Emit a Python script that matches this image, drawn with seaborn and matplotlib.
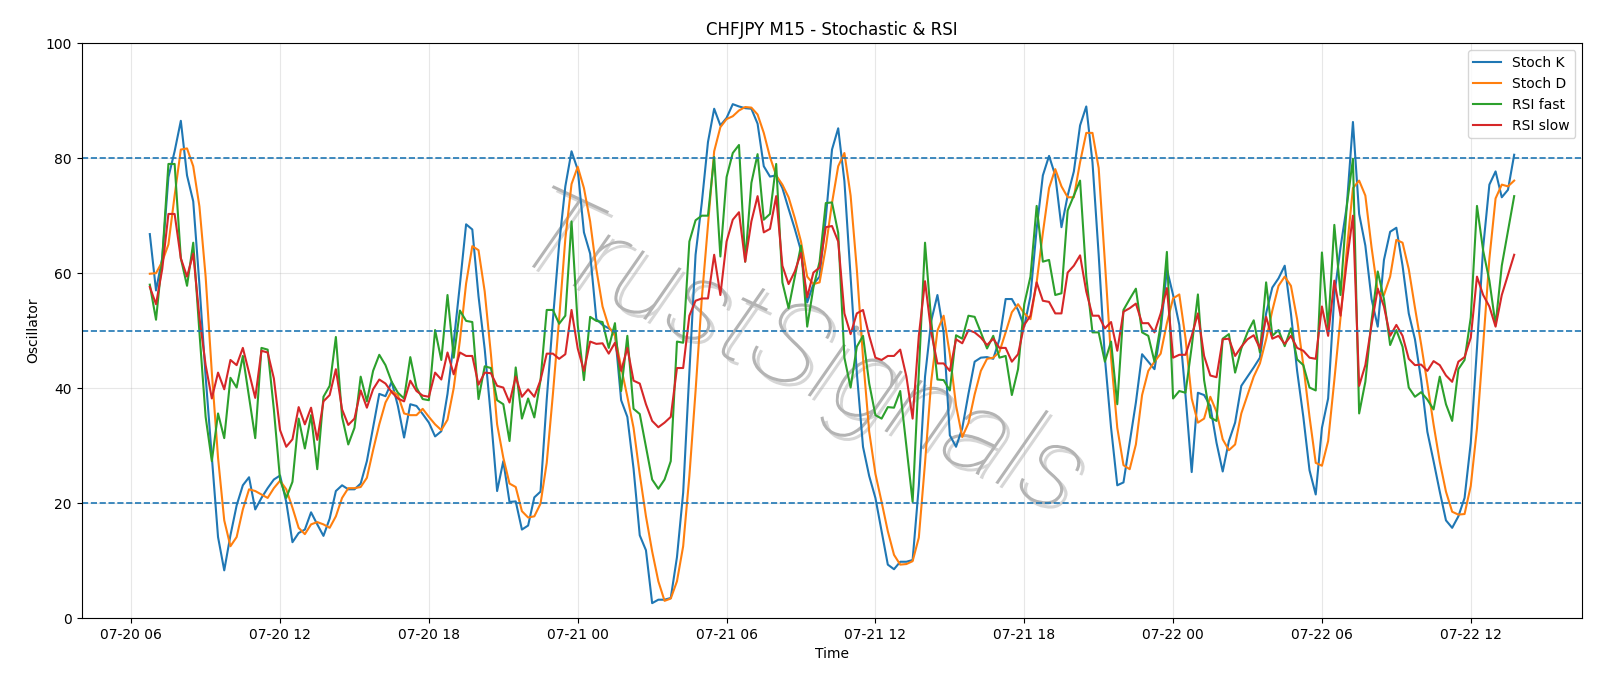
import matplotlib
matplotlib.use("Agg")
import matplotlib.pyplot as plt
import matplotlib.dates as mdates
import matplotlib.patheffects as pe
import pandas as pd
import seaborn as sns

start_time = "2020-07-20 06:45"

stoch_k = [
    66.8, 57, 62.6, 76.7, 81.2, 86.5, 77, 72.5, 58, 42,
    28, 14.1, 8.3, 14.4, 19.6, 23.1, 24.5, 18.9, 20.9, 22.6,
    24.1, 24.8, 20.2, 13.2, 14.8, 15.4, 18.4, 16.3, 14.3, 17.3,
    22.1, 23.1, 22.4, 22.4, 23.4, 27.3, 33.1, 39, 38.6, 41.1,
    36.9, 31.4, 37.2, 36.9, 35.5, 34, 31.6, 32.5, 39, 48,
    58, 68.5, 67.6, 56, 46.8, 35, 22.1, 27.3, 20.2, 20.3,
    15.4, 16.1, 21, 22, 38, 52, 65, 75.1, 81.2, 78,
    67.1, 63.4, 52, 51, 50.4, 49.7, 37.9, 35, 26, 14.4,
    11.8, 2.6, 3.2, 3.2, 3.5, 10.6, 21.8, 42.7, 63.2, 72.2,
    82.8, 88.6, 85.7, 87, 89.4, 89, 88.7, 88.6, 86, 78.6,
    76.8, 77, 74.8, 71.2, 67.7, 63.9, 54.9, 58.1, 59.4, 69.6,
    81.5, 85.2, 76, 59.4, 42.7, 29.8, 24.7, 20.9, 15.1, 9.3,
    8.5, 9.8, 9.8, 10.1, 23, 42, 51.7, 56.2, 49.7, 31.8,
    29.8, 33, 39, 44.6, 45.3, 45.4, 45.1, 48.5, 55.5, 55.5,
    53.6, 50.7, 56, 67.7, 77, 80.4, 77, 68, 73.5, 77.7,
    85.7, 89, 79.3, 63.2, 45.3, 33.1, 23.1, 23.6, 30.5, 37.5,
    45.9, 44.6, 43.3, 50, 60.7, 56.2, 51, 38.8, 25.4, 39.2,
    38.8, 36.9, 30.5, 25.5, 30.8, 34, 40.4, 42, 43.6, 45.3,
    53, 57.5, 59.1, 61.3, 53, 43, 35, 25.7, 21.5, 33.1,
    38.2, 56.2, 64.5, 71.6, 86.3, 70.3, 64.8, 55.5, 50.7, 62.3,
    67.2, 67.9, 61.3, 53, 48.5, 41.4, 32.4, 27.3, 22, 17,
    15.7, 17.7, 20.9, 30.5, 47, 64.5, 75.4, 77.7, 73.2, 74.5,
    80.6,
]

stoch_d = [
    59.9, 60, 62, 65, 73.5, 81.5, 81.7, 78.6, 71.6, 59.4,
    42.7, 27.9, 17, 12.5, 14.1, 18.9, 22.4, 22.1, 21.5, 20.9,
    22.6, 23.9, 22.4, 19.2, 15.7, 14.6, 16.3, 16.7, 16.3, 15.7,
    17.7, 20.9, 22.6, 22.6, 22.8, 24.4, 29.2, 33.7, 37.5, 39.5,
    38.8, 35.6, 35.3, 35.3, 36.4, 35, 33.7, 32.7, 34.5, 40,
    48.3, 58.2, 64.7, 64, 56.8, 45.9, 33.7, 27.9, 23.4, 22.8,
    18.6, 17.5, 17.7, 19.9, 27, 39, 52, 66, 75.5, 78.5,
    74.8, 69, 60.7, 54.2, 50.7, 49.1, 43.6, 38.5, 33.1, 25,
    17.7, 11.6, 6.4, 3, 3.4, 6.4, 12.5, 24.7, 39.5, 55.5,
    68.4, 81.2, 85.4, 86.8, 87.3, 88.3, 88.9, 88.8, 87.6, 84.4,
    80.2, 77, 75.4, 73.2, 69.6, 65.5, 59.4, 58.1, 58.4, 64.5,
    72.2, 78.6, 80.9, 73.5, 60.7, 45.3, 32.4, 25.1, 20.2, 15.1,
    11, 9.3, 9.4, 9.9, 14, 27, 41.2, 50, 52.6, 45.9,
    37, 31.5, 33.9, 38.9, 43, 45.1, 45.3, 46.3, 49.7, 53.2,
    54.6, 53, 52, 58.4, 67, 74.8, 78.1, 75.1, 73.2, 73.2,
    79.3, 84.4, 84.4, 78.3, 62, 45.3, 33.1, 26.6, 25.9, 30.2,
    38.8, 43, 44.6, 46, 51.3, 55.6, 56.3, 48.7, 38.2, 34,
    34.7, 38.5, 35.9, 31.1, 29.2, 30.2, 35.6, 38.8, 42, 44.3,
    48.5, 53.5, 57.8, 59.4, 57.8, 52, 44, 35, 27, 26.5,
    30.8, 41.4, 52.3, 63.9, 74.8, 76.1, 73.5, 64.5, 56.8, 56.2,
    59.4, 65.8, 65.3, 60.7, 54, 47.6, 40.8, 33.7, 27.2, 22,
    18.5, 18, 18.1, 23, 33, 47.5, 62.5, 73, 75.4, 75.1,
    76.1,
]

rsi_fast = [
    58, 51.9, 62.6, 79, 79, 62.6, 57.8, 65.3, 49.7, 35,
    27.3, 35.6, 31.3, 41.8, 40.1, 45.6, 38.5, 31.3, 47, 46.7,
    36.3, 24.1, 20.9, 23.7, 34.7, 29.5, 35.3, 25.9, 38.5, 40.4,
    48.9, 35, 30.2, 33.1, 42, 37.7, 43, 45.8, 44, 41.1,
    39.2, 38.2, 45.4, 40.1, 38.1, 37.9, 50.1, 44.9, 56.2, 45.3,
    53.5, 51.7, 51.5, 38.1, 43.8, 43.5, 37.9, 37.2, 30.8, 43.6,
    34.7, 38.2, 34.9, 41.4, 53.6, 53.6, 51.2, 52.6, 69, 51,
    41.4, 52.4, 51.7, 51.5, 47, 51.3, 39.5, 49.1, 36.4, 35.5,
    29.8, 24.1, 22.5, 24.1, 27.3, 48.1, 47.9, 65.5, 69.2, 70,
    70, 80.2, 62.9, 76.7, 80.9, 82.3, 62, 75.7, 80.7, 69.3,
    70.3, 79, 58.4, 53.9, 59.4, 64.8, 50.7, 57.5, 62, 72.2,
    72.3, 67, 45.3, 40.1, 47.2, 49.1, 40.8, 35.3, 34.7, 36.7,
    36.6, 39.5, 29.8, 20.2, 42.7, 65.3, 51.7, 41.5, 41.4, 39.6,
    49.2, 48.6, 52.6, 52.4, 49.7, 46.9, 49.1, 45.3, 45.6, 38.8,
    43.3, 54.6, 59.4, 71.7, 62, 62.3, 56.2, 56.5, 70.9, 73.5,
    76.1, 59.4, 49.7, 49.7, 44.6, 48.1, 37.2, 53.6, 55.5, 57.3,
    49.7, 49.1, 44.6, 51, 63.7, 38.2, 39.5, 39.2, 47.2, 56.3,
    41.4, 34.9, 34.3, 48.6, 49.4, 42.7, 46.9, 49.7, 51.8, 46.2,
    58.4, 49.1, 50.1, 47.3, 50.4, 45, 44, 40.1, 39.6, 63.6,
    50.4, 68.4, 56.2, 71.6, 79.9, 35.6, 41.1, 51.7, 60.3, 55.5,
    47.5, 50.1, 47.2, 40.1, 38.5, 39.3, 38, 36.3, 42, 37.2,
    34.3, 43.3, 44.9, 52.3, 71.7, 63.9, 58.7, 51, 61.3, 67.4,
    73.4,
]

rsi_slow = [
    57.6, 54.6, 60.7, 70.3, 70.3, 62.6, 59.4, 63.4, 52.3, 44,
    38.2, 42.7, 39.8, 44.9, 44, 47, 42.7, 38.3, 46.5, 46.2,
    41.7, 32.7, 29.8, 31.1, 36.7, 33.7, 36.6, 31, 37.7, 38.8,
    43.3, 36.3, 33.6, 34.7, 39.6, 36.6, 39.8, 41.5, 40.8, 39.3,
    38.2, 37.7, 41.3, 39.5, 38.7, 38.5, 42.7, 41.5, 46.2, 42.4,
    46.2, 45.6, 45.6, 40.6, 42.7, 42.6, 40.4, 40.1, 37.5, 42,
    38.5, 39.8, 38.5, 41.4, 46, 46, 45.1, 45.9, 53.6, 46.9,
    43, 48.1, 47.7, 47.8, 46, 47.9, 43, 47, 41.3, 40.8,
    37.2, 34.3, 33.2, 34, 35, 43.5, 43.5, 52.6, 55.2, 55.6,
    55.6, 63.2, 56.2, 65.5, 69.3, 70.6, 62, 69, 73.4, 67.1,
    67.7, 73.4, 61.3, 58.1, 60.3, 63.5, 55.8, 60.1, 61, 68,
    68.2, 65.5, 53, 49.4, 53, 53.6, 49.1, 45.3, 44.9, 45.6,
    45.6, 46.7, 42, 34.7, 49.1, 58.6, 49.7, 44.3, 44.3, 43,
    48.5, 47.8, 50.1, 49.7, 48.8, 47.5, 48.6, 47, 47, 44.6,
    45.9, 51, 52.6, 58.4, 55.2, 55, 53, 53, 60.1, 61.3,
    63.1, 56.8, 52.6, 52.6, 50.4, 51.5, 46.5, 53.3, 53.9, 54.7,
    51.3, 51.3, 49.7, 53, 57.4, 45.3, 45.8, 45.8, 49.1, 53,
    45.6, 42.2, 41.9, 48.5, 48.6, 45.6, 47.2, 48.5, 49.2, 46.9,
    52.4, 48.6, 49.1, 47.7, 49.1, 47, 46.5, 45.3, 45.1, 54.2,
    49.1, 58.7, 52.6, 61.9, 70, 40.4, 44, 51, 57.3, 54.2,
    49.1, 51, 49.1, 45.1, 44, 44.1, 43, 44.7, 44, 42.2,
    41.1, 44.6, 45.4, 48.8, 59.4, 56.2, 54.2, 50.7, 56.2, 59.7,
    63.2,
]

series_names = ["Stoch K", "Stoch D", "RSI fast", "RSI slow"]
levels = [20, 50, 80]
watermark = "TrustSignals"

times = pd.date_range(start_time, periods=len(stoch_k), freq="15min")
df = pd.DataFrame({
    "Time": times,
    "Stoch K": stoch_k,
    "Stoch D": stoch_d,
    "RSI fast": rsi_fast,
    "RSI slow": rsi_slow,
})

colors = sns.color_palette("tab10", 4)

fig, ax = plt.subplots(figsize=(16, 6.86), dpi=100)

# thin grey watermark with a soft shadow, behind the lines
ax.text(0.478, 0.455, watermark, transform=ax.transAxes, fontsize=84,
        rotation=-25, color="#b4b4b4", ha="center", va="center",
        family=["Roboto", "DejaVu Sans"], fontweight=100, fontstyle="italic",
        zorder=0,
        path_effects=[pe.SimplePatchShadow(offset=(3, -3), shadow_rgbFace="#d6d6d6", alpha=1.0),
                      pe.Normal()])

for name, color in zip(series_names, colors):
    sns.lineplot(data=df, x="Time", y=name, ax=ax, color=color,
                 linewidth=1.5, label=name)

for lvl in levels:
    ax.axhline(lvl, color=colors[0], linestyle="--", linewidth=1.2)

ax.set_ylim(0, 100)
ax.xaxis.set_major_locator(mdates.HourLocator(byhour=[0, 6, 12, 18]))
ax.xaxis.set_major_formatter(mdates.DateFormatter("%m-%d %H"))
ax.grid(True, alpha=0.3)
ax.set_title("CHFJPY M15 - Stochastic & RSI", fontsize=12)
ax.set_xlabel("Time")
ax.set_ylabel("Oscillator")
ax.legend(loc="upper right")

plt.subplots_adjust(left=0.051, right=0.989, top=0.937, bottom=0.099)
plt.savefig("out.png", dpi=100)
